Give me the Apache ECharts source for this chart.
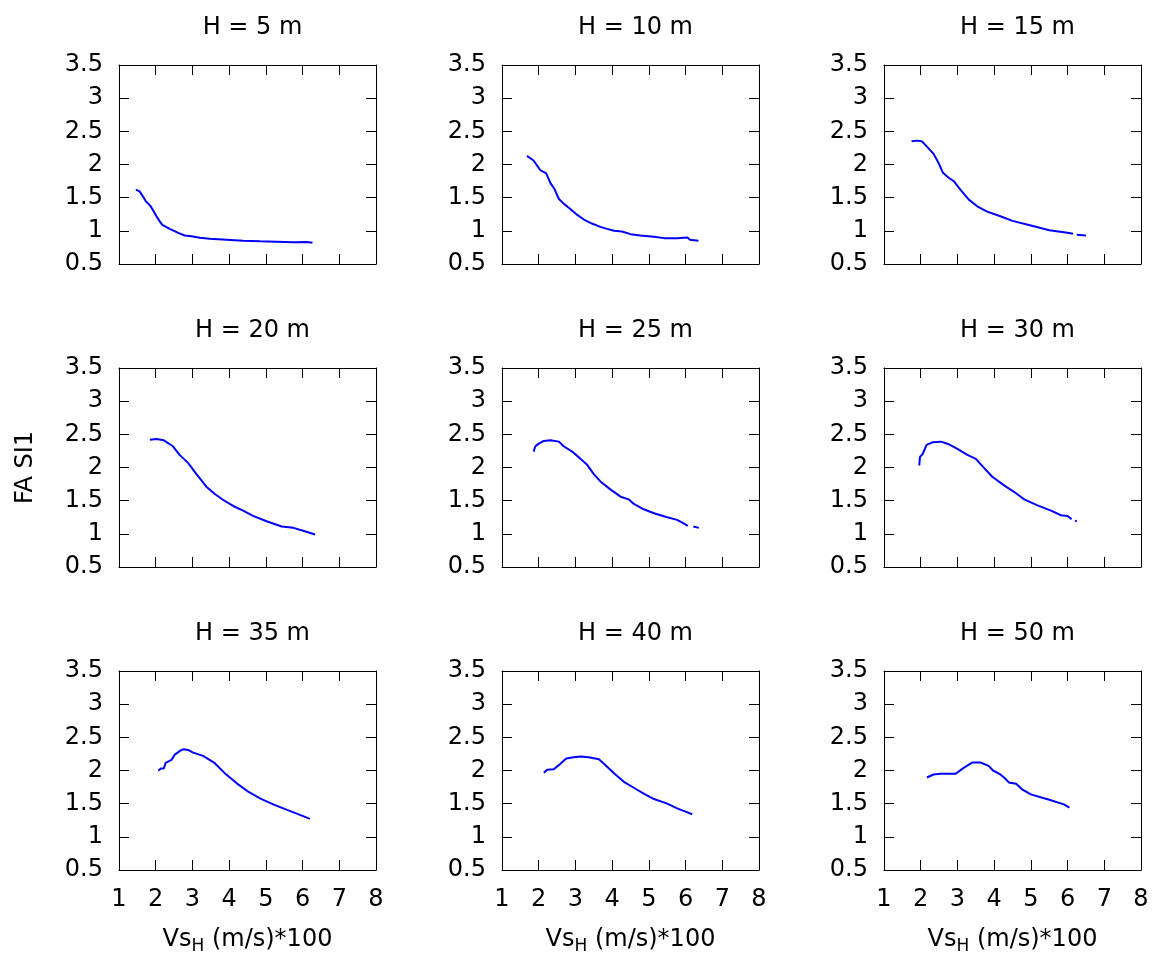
<!DOCTYPE html>
<html><head><meta charset="utf-8">
<script src="https://cdn.jsdelivr.net/npm/echarts@6/dist/echarts.min.js"></script>
<style>html,body{margin:0;padding:0;background:#fff}#c{width:1158px;height:956px}</style>
</head><body><div id="c"></div><script>
const panelTitles = ['H = 5 m','H = 10 m','H = 15 m','H = 20 m','H = 25 m','H = 30 m','H = 35 m','H = 40 m','H = 50 m'];
const xTicks = [1,2,3,4,5,6,7,8];
const yTicks = [0.5,1,1.5,2,2.5,3,3.5];

const vs_H5  = [1.46,1.56,1.65,1.73,1.85,1.94,2.02,2.1,2.18,2.28,2.38,2.5,2.61,2.79,2.97,3.2,3.47,3.93,4.38,4.84,5.29,5.75,6.11,6.27];
const fa_H5  = [1.62,1.595,1.52,1.445,1.38,1.3,1.22,1.15,1.09,1.06,1.03,1.0,0.97,0.93,0.917,0.897,0.882,0.867,0.852,0.842,0.837,0.827,0.83,0.82];
const vs_H10 = [1.68,1.86,2.05,2.2,2.32,2.43,2.55,2.68,2.86,3.05,3.23,3.45,3.68,3.86,4.05,4.27,4.5,4.77,5.14,5.41,5.77,6.05,6.12,6.35];
const fa_H10 = [2.13,2.06,1.91,1.87,1.72,1.63,1.48,1.41,1.33,1.24,1.17,1.11,1.06,1.03,1.0,0.99,0.95,0.93,0.91,0.89,0.887,0.9,0.867,0.85];
const vs_H15 = [1.75,1.8,1.9,2.03,2.17,2.35,2.49,2.6,2.76,2.9,3.08,3.31,3.54,3.81,4.17,4.5,5.0,5.5,6.0,6.15,6.2,6.25,6.5];
const fa_H15 = [2.35,2.37,2.36,2.35,2.27,2.16,2.02,1.88,1.80,1.75,1.62,1.47,1.37,1.29,1.22,1.15,1.08,1.01,0.97,0.955,null,0.94,0.93];
const vs_H20 = [1.84,2.02,2.22,2.47,2.65,2.88,3.11,3.38,3.61,3.84,4.11,4.38,4.65,5.02,5.43,5.75,6.06,6.34];
const fa_H20 = [2.42,2.43,2.41,2.32,2.19,2.07,1.90,1.71,1.60,1.51,1.42,1.35,1.27,1.19,1.11,1.09,1.04,0.99];
const vs_H25 = [1.86,1.91,2.0,2.14,2.32,2.55,2.68,2.91,3.14,3.32,3.5,3.68,3.95,4.23,4.45,4.59,4.86,5.14,5.5,5.77,5.91,6.06,6.13,6.21,6.36];
const fa_H25 = [2.24,2.32,2.36,2.40,2.41,2.39,2.32,2.24,2.13,2.04,1.90,1.79,1.67,1.56,1.52,1.45,1.37,1.31,1.25,1.21,1.17,1.12,null,1.11,1.09];
const vs_H30 = [1.96,1.98,2.05,2.16,2.32,2.55,2.77,3.0,3.27,3.5,3.73,3.95,4.27,4.55,4.82,5.18,5.55,5.82,6.0,6.11,6.15,6.2,6.25];
const fa_H30 = [2.03,2.16,2.2,2.34,2.38,2.39,2.35,2.28,2.19,2.13,1.99,1.86,1.73,1.63,1.52,1.43,1.35,1.28,1.27,1.22,null,1.20,1.19];
const vs_H35 = [2.07,2.14,2.22,2.27,2.43,2.52,2.67,2.76,2.88,3.02,3.29,3.61,3.88,4.2,4.52,4.84,5.2,5.56,5.93,6.2];
const fa_H35 = [1.995,2.03,2.03,2.115,2.16,2.24,2.30,2.32,2.31,2.27,2.22,2.11,1.96,1.81,1.68,1.58,1.49,1.41,1.33,1.27];
const vs_H40 = [2.14,2.23,2.41,2.59,2.75,2.95,3.14,3.36,3.64,3.82,4.05,4.32,4.59,4.86,5.14,5.5,5.77,6.0,6.18];
const fa_H40 = [1.965,2.01,2.02,2.10,2.18,2.20,2.21,2.20,2.17,2.08,1.96,1.83,1.74,1.65,1.57,1.50,1.43,1.38,1.34];
const vs_H50 = [2.17,2.35,2.54,2.95,3.17,3.4,3.63,3.85,3.97,4.17,4.3,4.4,4.6,4.75,5.0,5.5,5.9,6.05];
const fa_H50 = [1.895,1.94,1.95,1.95,2.04,2.12,2.12,2.07,2.0,1.94,1.88,1.82,1.80,1.72,1.64,1.56,1.49,1.44];

const xsAll = [vs_H5,vs_H10,vs_H15,vs_H20,vs_H25,vs_H30,vs_H35,vs_H40,vs_H50];
const ysAll = [fa_H5,fa_H10,fa_H15,fa_H20,fa_H25,fa_H30,fa_H35,fa_H40,fa_H50];

const FONT = 'DejaVu Sans';
const colLeft = [119, 502, 884];
const rowTop = [65, 368, 671];
const W = 257, H = 199;

const grids = [], xAxes = [], yAxes = [], series = [], titles = [];
for (let i = 0; i < 9; i++) {
  const r = Math.floor(i / 3), c = i % 3;
  grids.push({left: colLeft[c], top: rowTop[r], width: W, height: H, containLabel: false});
  titles.push({text: panelTitles[i], left: colLeft[c] + W / 2, top: rowTop[r] - 54, textAlign: 'center',
    textStyle: {fontFamily: FONT, fontSize: 24, fontWeight: 'normal', color: '#000'}});
  const tick = {show: true, inside: true, length: 10, lineStyle: {color: '#000', width: 1}};
  const line = {show: true, onZero: false, lineStyle: {color: '#000', width: 1}};
  const xBase = {gridIndex: i, type: 'value', min: xTicks[0], max: xTicks[xTicks.length - 1], interval: 1,
    axisLine: line, axisTick: tick, splitLine: {show: false}};
  const bottomX = Object.assign({}, xBase, {position: 'bottom',
    axisLabel: {show: r === 2, fontFamily: FONT, fontSize: 24, color: '#000', margin: 18}});
  if (r === 2) {
    Object.assign(bottomX, {
      name: '{a|Vs}{b|H}{a| (m/s)*100}', nameLocation: 'middle', nameGap: 54,
      nameTextStyle: {fontFamily: FONT, fontSize: 24, color: '#000',
        rich: {a: {fontFamily: FONT, fontSize: 24, color: '#000'},
               b: {fontFamily: FONT, fontSize: 17, color: '#000', padding: [14, 0, 0, 0]}}}
    });
  }
  xAxes.push(bottomX);
  xAxes.push(Object.assign({}, xBase, {position: 'top', axisLabel: {show: false}}));
  const yBase = {gridIndex: i, type: 'value', min: yTicks[0], max: yTicks[yTicks.length - 1], interval: 0.5,
    axisLine: line, axisTick: tick, splitLine: {show: false}};
  const leftY = Object.assign({}, yBase, {position: 'left',
    axisLabel: {show: true, fontFamily: FONT, fontSize: 24, color: '#000', margin: 16}});
  if (i === 3) {
    Object.assign(leftY, {name: 'FA SI1', nameLocation: 'middle', nameRotate: 90, nameGap: 81,
      nameTextStyle: {fontFamily: FONT, fontSize: 24, color: '#000'}});
  }
  yAxes.push(leftY);
  yAxes.push(Object.assign({}, yBase, {position: 'right', axisLabel: {show: false}}));
  const data = xsAll[i].map((x, k) => [x, ysAll[i][k] === null ? '-' : ysAll[i][k]]);
  series.push({type: 'line', xAxisIndex: 2 * i, yAxisIndex: 2 * i, data: data, showSymbol: false,
    connectNulls: false, lineStyle: {color: '#0000ff', width: 2}, itemStyle: {color: '#0000ff'}});
}

const chart = echarts.init(document.getElementById('c'), null, {renderer: 'canvas'});
chart.setOption({animation: false, backgroundColor: '#fff', title: titles,
  grid: grids, xAxis: xAxes, yAxis: yAxes, series: series});
</script></body></html>
